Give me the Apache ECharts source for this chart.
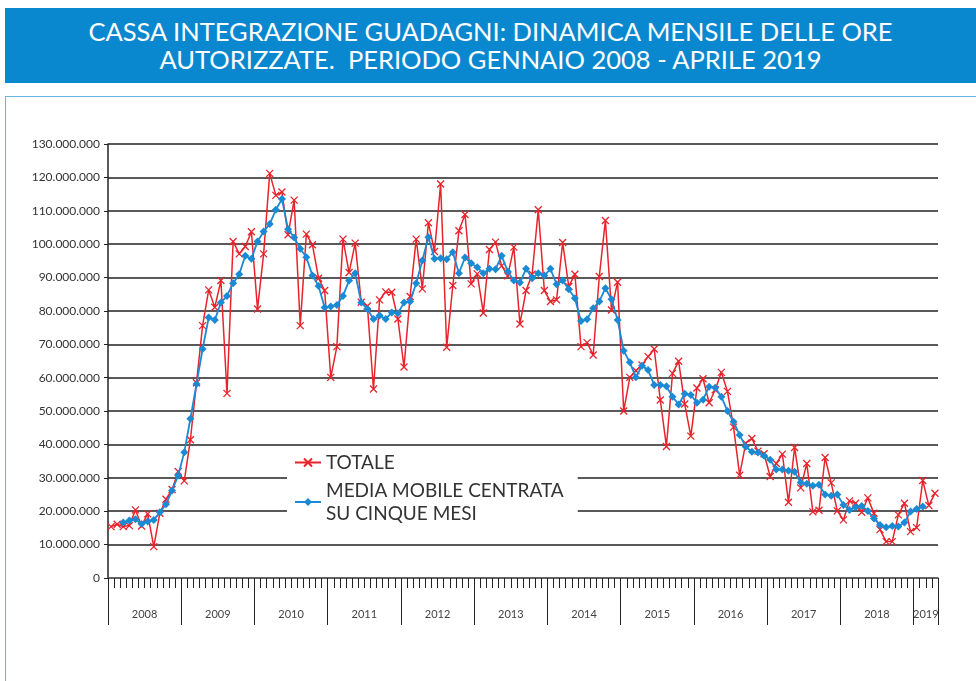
<!DOCTYPE html>
<html>
<head>
<meta charset="utf-8">
<script src="https://cdn.jsdelivr.net/npm/echarts@6/dist/echarts.min.js"></script>
<style>
  html, body { margin: 0; padding: 0; background: #fff; overflow: hidden; }
  body { width: 976px; height: 681px; position: relative; font-family: Lato, "Open Sans", sans-serif; }
  #banner {
    position: absolute; left: 5px; top: 8px; width: 971px; height: 75px;
    background: #0a88cf; color: #fff; text-align: center;
    font-size: 25.5px; line-height: 28px; padding-top: 9px; box-sizing: border-box;
  }
  #box {
    position: absolute; left: 5px; top: 96px; width: 1000px; height: 700px;
    border: 1px solid #6ab4e4;
  }
  #chart { position: absolute; left: 0; top: 0; width: 976px; height: 681px; }
</style>
</head>
<body>
<div id="banner">CASSA INTEGRAZIONE GUADAGNI: DINAMICA MENSILE DELLE ORE<br>AUTORIZZATE.&nbsp; PERIODO GENNAIO 2008 - APRILE 2019</div>
<div id="box"></div>
<div id="chart"></div>
<script>
// ore autorizzate, milioni, gennaio 2008 - aprile 2019
var years = ['2008', '2009', '2010', '2011', '2012', '2013', '2014', '2015', '2016', '2017', '2018', '2019']

var totale = [
  15.4, 16.1, 15.4, 15.7, 20.4, 15.6, 19.2, 9.4, 19.4, 23.6, 26.5, 31.9,
  29.1, 41.4, 58.5, 75.6, 86.3, 81.1, 89.1, 55.3, 100.8, 97.1, 99.3, 103.7,
  80.6, 97.1, 121.2, 114.6, 115.6, 102.8, 113.2, 75.6, 103.0, 99.8, 89.8, 86.1,
  60.1, 69.3, 101.5, 91.5, 100.3, 82.6, 81.5, 56.6, 83.3, 85.7, 85.6, 77.6,
  63.2, 84.3, 101.5, 86.6, 106.4, 97.8, 118.0, 69.1, 87.6, 104.0, 108.9, 88.1,
  91.1, 79.4, 98.4, 100.6, 93.5, 90.5, 99.1, 76.1, 86.1, 91.0, 110.3, 86.1,
  82.8, 83.3, 100.5, 87.3, 91.0, 69.3, 70.5, 66.8, 90.3, 107.1, 80.3, 88.6,
  50.0, 60.1, 62.1, 63.8, 66.3, 68.6, 53.3, 39.4, 61.3, 64.9, 52.1, 42.5,
  56.9, 59.7, 52.5, 56.4, 61.6, 55.9, 45.2, 30.8, 40.4, 41.8, 38.0, 37.2,
  30.4, 34.3, 37.1, 22.7, 39.1, 27.0, 34.3, 19.8, 20.3, 36.1, 28.5, 20.1,
  17.4, 23.1, 22.4, 19.7, 24.0, 19.4, 14.5, 10.9, 10.9, 18.9, 22.4, 13.9,
  15.1, 29.2, 21.7, 25.4
]

var mediaMobile = [
  null, null, 16.6, 17.2, 17.6, 16.2, 16.9, 17.4, 19.7, 22.1, 26.2, 30.7,
  37.7, 47.7, 58.1, 68.6, 78.0, 77.3, 82.5, 84.5, 88.3, 91.0, 96.5, 95.6,
  100.8, 103.8, 106.0, 110.3, 113.5, 104.5, 102.0, 98.6, 96.1, 90.6, 87.5, 81.0,
  81.3, 81.8, 84.5, 89.1, 91.3, 82.5, 80.6, 77.6, 78.6, 77.6, 79.5, 79.3,
  82.5, 82.8, 88.3, 95.1, 102.1, 95.6, 95.8, 95.5, 97.6, 91.3, 96.0, 94.3,
  93.1, 91.3, 92.6, 92.5, 96.5, 91.8, 89.1, 88.5, 92.6, 89.8, 91.3, 90.6,
  92.6, 88.0, 89.1, 86.5, 83.8, 77.0, 77.5, 80.8, 82.8, 86.8, 83.5, 77.3,
  68.1, 64.6, 60.1, 63.6, 62.3, 57.8, 57.8, 57.4, 54.3, 52.0, 55.2, 54.8,
  52.5, 53.4, 57.3, 57.0, 54.3, 50.0, 46.8, 42.8, 39.3, 37.8, 37.6, 36.6,
  35.4, 32.5, 32.5, 32.1, 31.8, 28.6, 28.2, 27.6, 27.9, 25.0, 24.6, 25.0,
  21.9, 20.4, 21.2, 21.6, 20.1, 17.8, 15.9, 15.2, 15.6, 15.4, 16.6, 19.9,
  20.7, 21.4, null, null
]

var mesi = []
var monthTicks = []
for (var i = 0; i < totale.length; i++) {
  mesi.push(years[Math.floor(i / 12)] + '-' + (i % 12 + 1))
  monthTicks.push(i)
}
monthTicks.push(totale.length)

// separatori anni e posizione etichette sull'asse
var yearTicks = [0, 12, 24, 36, 48, 60, 72, 84, 96, 108, 120, 132, 136]
var yearLabelPos = [6, 18, 30, 42, 54, 66, 78, 90, 102, 114, 126, 134]

function puntini(v) {
  if (v === 0) return '0'
  return String(Math.round(v * 1000000)).replace(/\B(?=(\d{3})+(?!\d))/g, '.')
}

var chart = echarts.init(document.getElementById('chart'))
chart.setOption({
  animation: false,
  textStyle: { fontFamily: 'Lato, "Open Sans", sans-serif' },
  grid: { left: 108, right: 38, top: 144, bottom: 103 },
  legend: {
    orient: 'vertical',
    left: 287, top: 447,
    padding: [4, 14, 10, 7],
    backgroundColor: '#fff',
    itemWidth: 26, itemHeight: 10, itemGap: 5,
    textStyle: { fontSize: 19, color: '#333', lineHeight: 23 },
    data: ['TOTALE', 'MEDIA MOBILE CENTRATA\nSU CINQUE MESI']
  },
  xAxis: [
    {
      type: 'category',
      data: mesi,
      boundaryGap: true,
      axisLine: { lineStyle: { color: '#666', width: 1.5 } },
      axisTick: { show: false },
      axisLabel: { show: false }
    },
    {
      // tacche mensili
      type: 'value',
      min: 0, max: 136,
      position: 'bottom',
      axisLine: { show: false },
      splitLine: { show: false },
      axisTick: { show: true, length: 10, customValues: monthTicks, lineStyle: { color: '#222' } },
      axisLabel: { show: false }
    },
    {
      // separatori e etichette degli anni
      type: 'value',
      min: 0, max: 136,
      position: 'bottom',
      offset: 0,
      axisLine: { show: false },
      splitLine: { show: false },
      axisTick: { show: true, length: 47, customValues: yearTicks, lineStyle: { color: '#222' } },
      axisLabel: {
        customValues: yearLabelPos,
        margin: 31, fontSize: 11, color: '#444',
        formatter: function (v) { return years[Math.floor(v / 12)] }
      }
    }
  ],
  yAxis: {
    type: 'value',
    min: 0, max: 130, interval: 10,
    axisLine: { show: true, lineStyle: { color: '#222', width: 1.5 } },
    axisTick: { show: true, length: 4, lineStyle: { color: '#222' } },
    axisLabel: { margin: 8, fontSize: 12, color: '#333', formatter: puntini },
    splitLine: { lineStyle: { color: '#222', width: 1.5 } }
  },
  series: [
    {
      name: 'TOTALE',
      type: 'line',
      data: totale,
      showAllSymbol: true,
      symbol: 'path://M0,0L10,10M10,0L0,10',
      symbolSize: 7,
      lineStyle: { color: '#e8232b', width: 1.5 },
      itemStyle: { color: '#e8232b', borderColor: '#e8232b', borderWidth: 1.3 },
      z: 3
    },
    {
      name: 'MEDIA MOBILE CENTRATA\nSU CINQUE MESI',
      type: 'line',
      data: mediaMobile,
      showAllSymbol: true,
      symbol: 'diamond',
      symbolSize: 8,
      lineStyle: { color: '#1a8ad4', width: 1.8 },
      itemStyle: { color: '#1a8ad4' },
      z: 4
    }
  ]
})
</script>
</body>
</html>
